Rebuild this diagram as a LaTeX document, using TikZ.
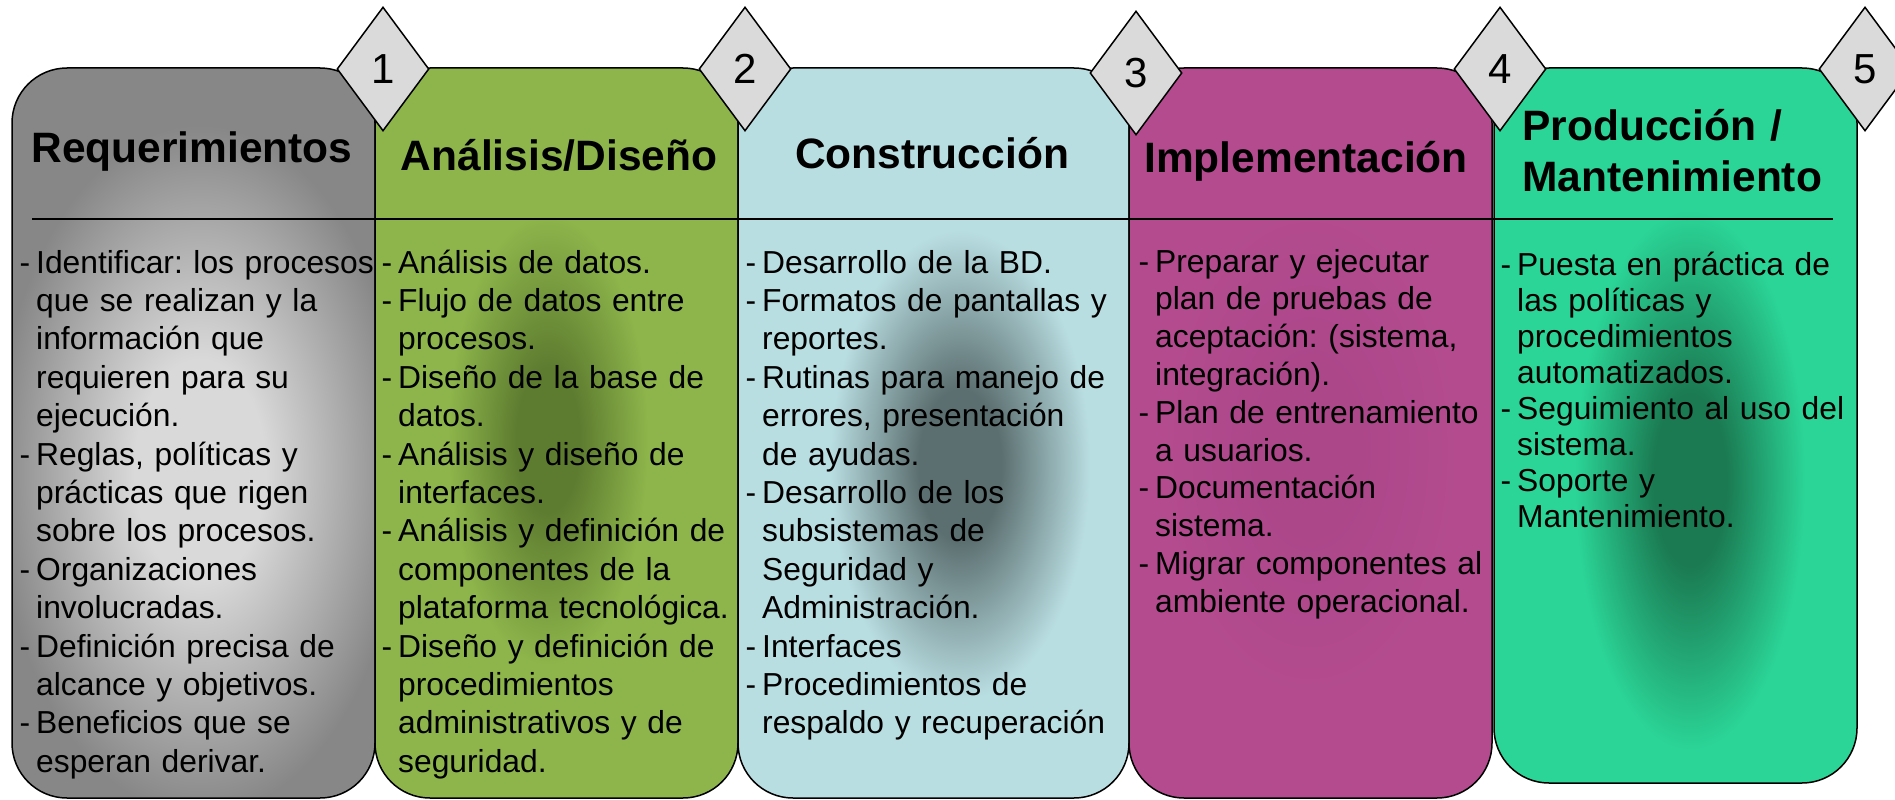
\documentclass[tikz,border=0pt]{standalone}
\usepackage{fontspec}
\setmainfont{Liberation Sans}
\usepackage{xcolor}
\usetikzlibrary{shapes.geometric}

\definecolor{gris}{HTML}{878787}
\definecolor{grisclaro}{HTML}{D9D9D9}
\definecolor{verde}{HTML}{8DB54B}
\definecolor{verdeosc}{HTML}{5E7C30}
\definecolor{celeste}{HTML}{B9DEE2}
\definecolor{celesteosc}{HTML}{5C6F70}
\definecolor{fucsia}{HTML}{B44B8F}
\definecolor{fucsiaosc}{HTML}{AC478A}
\definecolor{turquesa}{HTML}{2BD597}
\definecolor{turquesaosc}{HTML}{1B7A52}
\definecolor{rombogris}{HTML}{DADADA}
\colorlet{blobin}{gris}
\colorlet{blobout}{gris}

\pgfdeclareradialshading[blobin,blobout]{mancha}{\pgfpoint{0bp}{0bp}}{color(0bp)=(blobin); color(8bp)=(blobin); color(25bp)=(blobout); color(50bp)=(blobout)}

\newcommand{\gu}{\makebox[16.5pt][l]{-}}
\newcommand{\ind}{\hspace*{16.5pt}}

\tikzset{
  borde/.style={draw=black, line width=1.5pt, rounded corners=55pt},
  rombo/.style={shape=diamond, draw=black, line width=1.5pt, fill=rombogris, minimum width=92pt, minimum height=124pt, inner sep=0pt, font=\fontsize{42}{42}\selectfont},
  titulo/.style={anchor=base, inner sep=0pt, font=\bfseries\fontsize{42.5}{51}\selectfont},
  cuerpo/.style={anchor=base west, inner sep=0pt, text width=400pt, align=left, font=\fontsize{31.8}{38.4}\selectfont},
}

\begin{document}
\frenchspacing
\begin{tikzpicture}[x=1pt,y=-1pt]
\useasboundingbox (0,0) rectangle (1895,800);
% columnas
\foreach \xa/\xb/\yb/\base/\mid/\cx/\cy/\rx/\ry in {
   12/375/798/gris/grisclaro/200/470/205/345,
   375/738/798/verde/verdeosc/548/440/100/225,
   738/1129/798/celeste/celesteosc/960/465/130/235,
   1129/1492/798/fucsia/fucsiaosc/1310/450/150/250,
   1494/1857/783/turquesa/turquesaosc/1690/480/115/270}
{
  \fill[\base, rounded corners=55pt] (\xa,68) rectangle (\xb,\yb);
  \begin{scope}
    \clip[rounded corners=55pt] (\xa,68) rectangle (\xb,\yb);
    \colorlet{blobin}{\mid}
    \colorlet{blobout}{\base}
    \shade[shading=mancha] (\cx,\cy) ellipse [x radius=\rx, y radius=\ry];
  \end{scope}
  \draw[borde] (\xa,68) rectangle (\xb,\yb);
}
\coordinate (lin1) at (32,219);
\coordinate (lin2) at (1833,219);
\draw[line width=1.5pt] (lin1) -- (lin2);

% titulos
\node[titulo] (treq) at (192,162) {Requerimientos};
\node[titulo] (tana) at (559,170) {Análisis/Diseño};
\node[titulo] (tcon) at (932,168) {Construcción};
\node[titulo] (timp) at (1306,172) {Implementación};
\node[titulo, anchor=base west, text width=340pt, align=left] (tpro) at (1522,140) {Producción /\\Mantenimiento};

% textos
\node[cuerpo] (breq) at (19.5,273) {\gu Identificar: los procesos\\
\ind que se realizan y la\\
\ind información que\\
\ind requieren para su\\
\ind ejecución.\\
\gu Reglas, políticas y\\
\ind prácticas que rigen\\
\ind sobre los procesos.\\
\gu Organizaciones\\
\ind involucradas.\\
\gu Definición precisa de\\
\ind alcance y objetivos.\\
\gu Beneficios que se\\
\ind esperan derivar.};
\node[cuerpo] (bana) at (381.5,273) {\gu Análisis de datos.\\
\gu Flujo de datos entre\\
\ind procesos.\\
\gu Diseño de la base de\\
\ind datos.\\
\gu Análisis y diseño de\\
\ind interfaces.\\
\gu Análisis y definición de\\
\ind componentes de la\\
\ind plataforma tecnológica.\\
\gu Diseño y definición de\\
\ind procedimientos\\
\ind administrativos y de\\
\ind seguridad.};
\node[cuerpo] (bcon) at (745.5,273) {\gu Desarrollo de la BD.\\
\gu Formatos de pantallas y\\
\ind reportes.\\
\gu Rutinas para manejo de\\
\ind errores, presentación\\
\ind de ayudas.\\
\gu Desarrollo de los\\
\ind subsistemas de\\
\ind Seguridad y\\
\ind Administración.\\
\gu Interfaces\\
\gu Procedimientos de\\
\ind respaldo y recuperación};
\node[cuerpo, font=\fontsize{31.8}{37.8}\selectfont] (bimp) at (1138.5,272) {\gu Preparar y ejecutar\\
\ind plan de pruebas de\\
\ind aceptación: (sistema,\\
\ind integración).\\
\gu Plan de entrenamiento\\
\ind a usuarios.\\
\gu Documentación\\
\ind sistema.\\
\gu Migrar componentes al\\
\ind ambiente operacional.};
\node[cuerpo, font=\fontsize{31.8}{36.1}\selectfont] (bpro) at (1500.5,275) {\gu Puesta en práctica de\\
\ind las políticas y\\
\ind procedimientos\\
\ind automatizados.\\
\gu Seguimiento al uso del\\
\ind sistema.\\
\gu Soporte y\\
\ind Mantenimiento.};

% rombos
\foreach \n/\x/\y in {1/383/69, 2/745/69, 3/1136/73, 4/1500/69, 5/1865/69}
    \node[rombo] (d\n) at (\x,\y) {\n};
\end{tikzpicture}
\end{document}
